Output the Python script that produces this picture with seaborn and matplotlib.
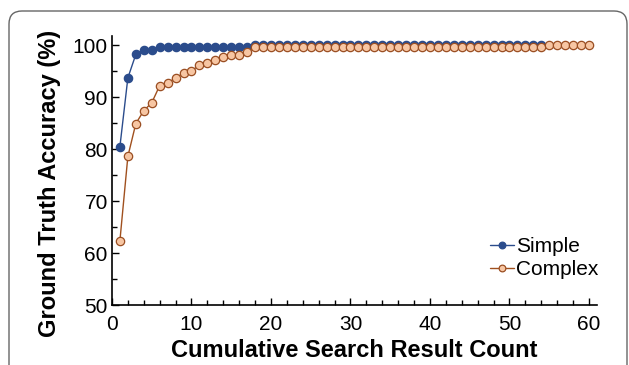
import numpy as np
import pandas as pd
import matplotlib.pyplot as plt
import seaborn as sns
from matplotlib.patches import FancyBboxPatch
from matplotlib.transforms import IdentityTransform
from matplotlib.ticker import MultipleLocator

# values
simple_x = list(range(1, 55))
simple_y = [80.5, 93.7, 98.2, 99.0, 99.0] + [99.6] * 12 + [100.0] * 37

complex_x = list(range(1, 61))
complex_y = [62.4, 78.6, 84.9, 87.4, 88.9, 92.2, 92.7, 93.7, 94.6, 95.1,
             96.1, 96.6, 97.2, 97.7, 98.1, 98.1, 98.6] + [99.6] * 37 + [100.0] * 6

df = pd.concat([
    pd.DataFrame({'count': simple_x, 'acc': simple_y, 'type': 'Simple'}),
    pd.DataFrame({'count': complex_x, 'acc': complex_y, 'type': 'Complex'}),
])

sns.set_style('white')
plt.rcParams['font.family'] = ['Liberation Sans', 'DejaVu Sans']
plt.rcParams['text.color'] = 'black'
plt.rcParams['axes.labelcolor'] = 'black'
plt.rcParams['xtick.color'] = 'black'
plt.rcParams['ytick.color'] = 'black'

fig = plt.figure(figsize=(6.29, 3.65), dpi=100)
ax = fig.add_axes([0.178, 0.164, 0.771, 0.738])

# rounded frame around the figure (pixel coords)
frame = FancyBboxPatch((9, -30), 618, 384, boxstyle='round,pad=0,rounding_size=13',
                       transform=IdentityTransform(), fill=False, edgecolor='#666666', lw=1.0)
fig.patches.append(frame)

styles = {
    'Simple': dict(color='#2b4c8c', marker='o', markerfacecolor='#2b4c8c',
                   markeredgecolor='#2b4c8c'),
    'Complex': dict(color='#a0501e', marker='o', markerfacecolor='#f7c6a3',
                    markeredgecolor='#9a4e22'),
}
for name in ['Simple', 'Complex']:
    sub = df[df['type'] == name]
    sns.lineplot(data=sub, x='count', y='acc', ax=ax, label=name, lw=1.0,
                 markersize=6, markeredgewidth=0.9, **styles[name])

ax.set_xlim(0, 61)
ax.set_ylim(50, 101.8)
ax.xaxis.set_major_locator(MultipleLocator(10))
ax.xaxis.set_minor_locator(MultipleLocator(2))
ax.yaxis.set_major_locator(MultipleLocator(10))
ax.yaxis.set_minor_locator(MultipleLocator(5))
ax.tick_params(which='both', direction='in', bottom=True, left=True, width=1.0,
               labelsize=15, pad=3, color='black', labelcolor='black')
ax.tick_params(axis='x', pad=7)
ax.tick_params(which='major', length=5)
ax.tick_params(which='minor', length=3.5)
for s in ['top', 'right']:
    ax.spines[s].set_visible(False)
for s in ['left', 'bottom']:
    ax.spines[s].set_color('black')
    ax.spines[s].set_linewidth(1.2)

ax.set_xlabel('Cumulative Search Result Count', fontsize=17, fontweight='bold', labelpad=4)
ax.set_ylabel('Ground Truth Accuracy (%)', fontsize=17, fontweight='bold')
ax.yaxis.set_label_coords(-0.105, 0.45)

leg = ax.legend(loc='lower right', bbox_to_anchor=(1.02, 0.065), frameon=False, fontsize=15,
                handlelength=1.15, handletextpad=0.1, borderaxespad=0, labelspacing=0.2,
                markerscale=0.8)

fig.savefig('out.png', dpi=100)
